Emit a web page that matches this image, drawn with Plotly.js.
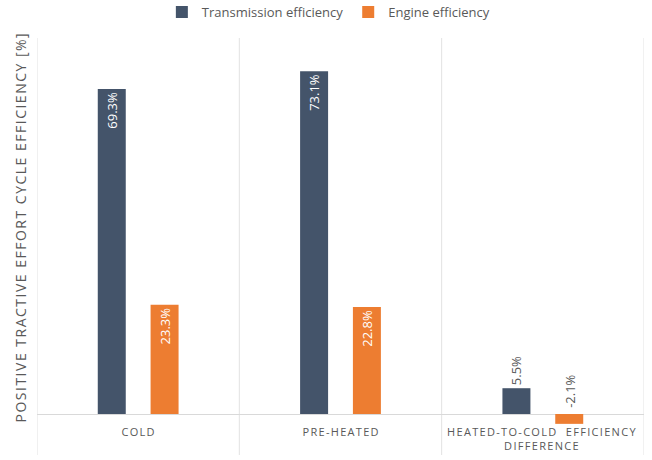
<!DOCTYPE html>
<html><head><meta charset="utf-8">
<script src="https://cdn.plot.ly/plotly-3.0.1.min.js"></script>
<style>
html,body{margin:0;padding:0;background:#fff;}
#chart{width:652px;height:460px;}
.annotation[data-index="0"] text,
.annotation[data-index="1"] text,
.annotation[data-index="2"] text{letter-spacing:1.3px;}
.annotation[data-index="4"] text{letter-spacing:1.5px;}
</style>
</head><body><div id="chart"></div>
<script>
// ---- data ----
const categories = ['COLD', 'PRE-HEATED', 'HEATED-TO-COLD\u00a0 EFFICIENCY<br>DIFFERENCE'];
const seriesNames = ['Transmission efficiency', 'Engine efficiency'];
const transmission = [69.3, 73.1, 5.5];
const engine = [23.3, 22.8, -2.1];
const yTitle = 'POSITIVE TRACTIVE EFFORT CYCLE EFFICIENCY [%]';

// ---- style ----
const colors = ['#44546A', '#ED7D31'];
const grey = '#595959';
const font = 'Open Sans, Arial, sans-serif';
const groupShift = [-26.5, 26.5];

const fmt = v => v.toFixed(1) + '%';
const seriesValues = [transmission, engine];

const traces = seriesValues.map((vals, i) => ({
  type: 'bar',
  name: seriesNames[i],
  x: categories,
  y: vals,
  marker: {color: colors[i]},
  text: vals.map(fmt),
  textposition: vals.map(v => v > 10 ? 'inside' : (v >= 0 ? 'outside' : 'none')),
  insidetextanchor: 'end',
  textangle: -90,
  constraintext: 'none',
  insidetextfont: {family: font, size: 13, color: '#ffffff'},
  outsidetextfont: {family: font, size: 13, color: grey},
  cliponaxis: false,
  hoverinfo: 'skip'
}));

const annotations = categories.map(c => ({
  xref: 'x', yref: 'y', x: c, y: 0,
  text: c, showarrow: false, yanchor: 'top', yshift: -8,
  font: {family: font, size: 11, color: grey}
}));

// negative-value labels placed above the zero line
seriesValues.forEach((vals, i) => {
  vals.forEach((v, j) => {
    if (v < 0) {
      annotations.push({
        xref: 'x', yref: 'y', x: categories[j], y: 0,
        text: fmt(v), showarrow: false, textangle: -90,
        yanchor: 'bottom', yshift: 4, xshift: groupShift[i],
        font: {family: font, size: 13, color: grey}
      });
    }
  });
});

annotations.push({
  xref: 'paper', yref: 'paper', x: 0, y: 0.545, xshift: -16,
  text: yTitle, showarrow: false, textangle: -90,
  xanchor: 'center', yanchor: 'middle',
  font: {family: font, size: 14, color: grey}
});

const separators = [-0.5, 0.5, 1.5, 2.5].map(x => ({
  type: 'line', xref: 'x', yref: 'paper', x0: x, x1: x, y0: 0, y1: 1,
  line: {color: '#e2e2e2', width: 1}, layer: 'below'
}));

const layout = {
  width: 652, height: 460,
  margin: {l: 37, r: 8, t: 38, b: 5, autoexpand: false},
  paper_bgcolor: '#ffffff', plot_bgcolor: '#ffffff',
  barmode: 'group', bargap: 0.478, bargroupgap: 0.47,
  showlegend: true,
  legend: {orientation: 'h', x: 0.48, xanchor: 'center', y: 1.062, yanchor: 'middle',
           font: {family: font, size: 13, color: grey}, itemclick: false},
  xaxis: {type: 'category', range: [-0.5, 2.5], showticklabels: false, showgrid: false,
          zeroline: false, showline: false, ticks: '', fixedrange: true},
  yaxis: {range: [-8.74, 80.17], showticklabels: false, showgrid: false, ticks: '',
          zeroline: true, zerolinecolor: '#d9d9d9', zerolinewidth: 1, showline: false, fixedrange: true},
  shapes: separators,
  annotations: annotations,
  font: {family: font, color: grey}
};

Plotly.newPlot('chart', traces, layout, {displayModeBar: false, staticPlot: true});
</script>
</body></html>
